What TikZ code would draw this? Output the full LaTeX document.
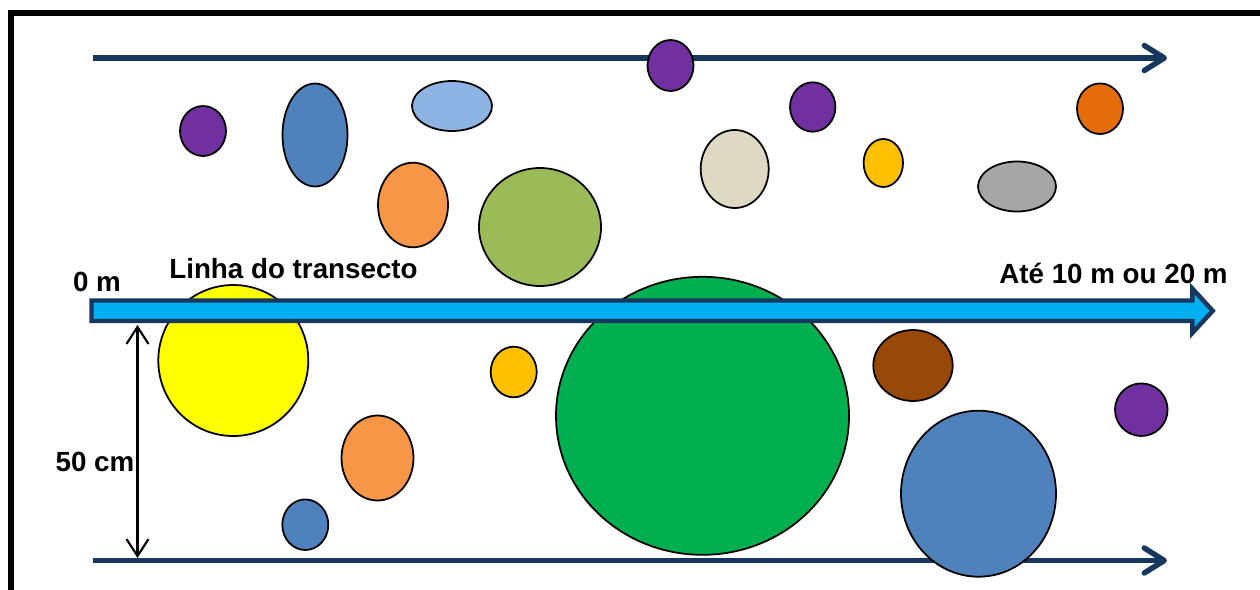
\documentclass[tikz,border=0pt]{standalone}
\usepackage{fontspec}
\setmainfont{Liberation Sans}
\usetikzlibrary{arrows.meta}
\definecolor{navy}{HTML}{17375E}
\definecolor{skyline}{HTML}{00B0F0}
\definecolor{purp}{HTML}{7030A0}
\definecolor{steel}{HTML}{4F81BD}
\definecolor{paleblue}{HTML}{8EB4E3}
\definecolor{peach}{HTML}{F79646}
\definecolor{olive}{HTML}{9BBB59}
\definecolor{beige}{HTML}{DDD9C3}
\definecolor{gold}{HTML}{FFC000}
\definecolor{rust}{HTML}{E46C0A}
\definecolor{stone}{HTML}{A6A6A6}
\definecolor{lemon}{HTML}{FFFF00}
\definecolor{grass}{HTML}{00B050}
\definecolor{bark}{HTML}{984807}

\begin{document}
\begin{tikzpicture}[x=0.02cm,y=-0.02cm,
		blob/.style={draw=black,line width=1pt},
		guide/.style={navy,line width=3.1pt,-{Straight Barb[length=0.4cm,width=0.5cm,round]}},
		lbl/.style={font=\bfseries\fontsize{15.8}{18}\selectfont,inner sep=0pt,anchor=base}]
				\useasboundingbox (0,0) rectangle (1260,589);
				\clip (0,0) rectangle (1260,589);
				% frame of the slide
				\draw[line width=3.4pt] (11,620) -- (11,13) -- (1290,13);
				% edges of the strip
				\coordinate (topA) at (93,58);
				\coordinate (topB) at (1167,58);
				\coordinate (botA) at (93,560.5);
				\coordinate (botB) at (1167,560.5);
				\draw[guide] (topA) -- (topB);
				\draw[guide] (botA) -- (botB);
				% width of the strip
				\coordinate (wTop) at (137.5,325);
				\coordinate (wBot) at (137.5,558);
				\draw[line width=1.2pt,{Straight Barb[length=0.34cm,width=0.44cm]}-{Straight Barb[length=0.34cm,width=0.44cm]}] (wTop) -- (wBot);
				% plants above the line
				\draw[blob,fill=purp] (203,131) ellipse [x radius=23,y radius=25];
				\draw[blob,fill=steel] (315,135) ellipse [x radius=32.5,y radius=51.5];
				\draw[blob,fill=paleblue] (452,106) ellipse [x radius=40,y radius=25];
				\draw[blob,fill=peach] (413,205) ellipse [x radius=35,y radius=42.3];
				\draw[blob,fill=olive] (540,227) ellipse [x radius=61,y radius=59];
				\draw[blob,fill=purp] (670.5,65.5) ellipse [x radius=23,y radius=25.5];
				\draw[blob,fill=beige] (734.7,169) ellipse [x radius=34,y radius=39];
				\draw[blob,fill=purp] (812.7,107) ellipse [x radius=22.7,y radius=24.7];
				\draw[blob,fill=gold] (883.3,163) ellipse [x radius=19.7,y radius=24];
				\draw[blob,fill=stone] (1017,186.5) ellipse [x radius=39,y radius=25];
				\draw[blob,fill=rust] (1100,108.7) ellipse [x radius=23,y radius=25.3];
				% plants below the line
				\draw[blob,fill=lemon] (233.3,360.5) ellipse [x radius=75,y radius=75.5];
				\draw[blob,fill=gold] (513.7,372) ellipse [x radius=23,y radius=25.3];
				\draw[blob,fill=peach] (377.5,458) ellipse [x radius=36,y radius=42.5];
				\draw[blob,fill=steel] (305.3,524.7) ellipse [x radius=23,y radius=25.3];
				\draw[blob,fill=grass] (702.5,415.8) ellipse [x radius=146.5,y radius=139];
				\draw[blob,fill=bark] (913,365.5) ellipse [x radius=39.7,y radius=35.5];
				\draw[blob,fill=purp] (1141.3,409.7) ellipse [x radius=26.3,y radius=26.3];
				\draw[blob,fill=steel] (978.5,493.7) ellipse [x radius=77.5,y radius=83];
				% the transect line
				\draw[navy,fill=skyline,line width=2.55pt,line join=miter]
					(91.5,300.5) -- (1192.3,300.5) -- (1192.3,288.5) -- (1212.7,310.8)
					-- (1192.3,333) -- (1192.3,321) -- (91.5,321) -- cycle;
				% labels
				\node[lbl] (zero) at (97,291) {0 m};
				\node[lbl] (linha) at (293.5,278.3) {Linha do transecto};
				\node[lbl] (ate) at (1113.5,283.3) {Até 10 m ou 20 m};
				\node[lbl] (fifty) at (95,471.7) {50 cm};
\end{tikzpicture}
\end{document}
